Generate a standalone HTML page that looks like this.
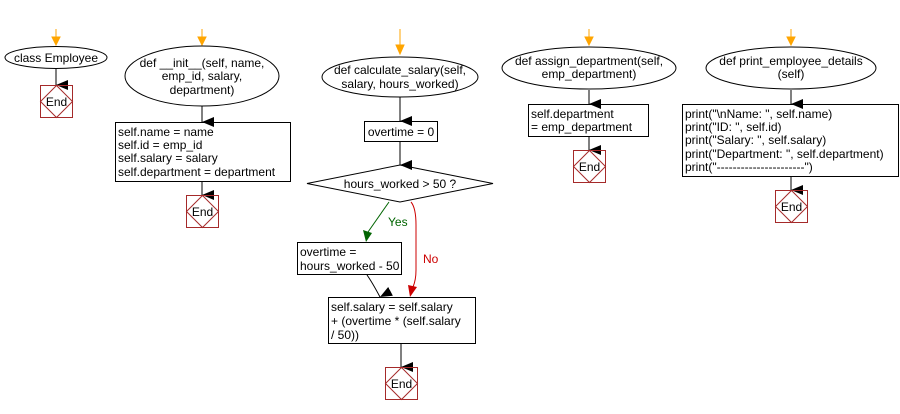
<!DOCTYPE html>
<html><head><meta charset="utf-8"><style>
html,body{margin:0;padding:0;background:#fff;}
svg{display:block;}
text{font-family:"Liberation Sans",Arial,sans-serif;font-size:12px;fill:#000;}
</style></head><body>
<svg width="900" height="414" viewBox="0 0 900 414" xmlns="http://www.w3.org/2000/svg">
<defs>
<marker id="ab" markerWidth="10" markerHeight="12" refX="5" refY="12" orient="auto" markerUnits="userSpaceOnUse" viewBox="0 0 10 12"><path d="M0,0 L10,0 L5,12 Z" fill="#000"/></marker>
</defs>
<g fill="none" stroke-width="1">
<!-- orange start arrows -->
<g stroke="#ffa500" fill="#ffa500">
<line x1="56" y1="29" x2="56" y2="38"/><path d="M52,37 L60,37 L56,45 Z"/>
<line x1="202" y1="29" x2="202" y2="38"/><path d="M198,37 L206,37 L202,45 Z"/>
<line x1="400" y1="29" x2="400" y2="46"/><path d="M396,45 L404,45 L400,54 Z"/>
<line x1="589" y1="29" x2="589" y2="38"/><path d="M585,37 L593,37 L589,45 Z"/>
<line x1="791" y1="29" x2="791" y2="38"/><path d="M787,37 L795,37 L791,45 Z"/>
</g>
<g stroke="#000">
<!-- ellipses -->
<ellipse cx="56" cy="57.5" rx="51" ry="11"/>
<ellipse cx="202" cy="76" rx="77" ry="30"/>
<ellipse cx="400" cy="77" rx="78" ry="20"/>
<ellipse cx="589" cy="68" rx="87" ry="21"/>
<ellipse cx="791" cy="68" rx="85" ry="21"/>
<!-- rects -->
<rect x="115.5" y="122.5" width="175" height="59"/>
<rect x="364.5" y="121.5" width="73" height="20"/>
<rect x="297.5" y="242.5" width="104" height="32"/>
<rect x="328.5" y="297.5" width="147" height="46"/>
<rect x="528.5" y="104.5" width="120" height="32"/>
<rect x="682.5" y="104.5" width="216" height="72"/>
<polygon points="400,165 493,183.5 400,202 307,183.5"/>
<!-- connectors -->
<line x1="56" y1="69" x2="56" y2="85" marker-end="url(#ab)"/>
<line x1="202" y1="106" x2="202" y2="122" marker-end="url(#ab)"/>
<line x1="202" y1="181" x2="202" y2="195" marker-end="url(#ab)"/>
<line x1="400" y1="97" x2="400" y2="121" marker-end="url(#ab)"/>
<line x1="400" y1="142" x2="400" y2="165" marker-end="url(#ab)"/>
<path d="M367,275 Q372,282 380,297" marker-end="url(#ab)"/>
<line x1="401" y1="344" x2="401" y2="367" marker-end="url(#ab)"/>
<line x1="589" y1="90" x2="589" y2="104" marker-end="url(#ab)"/>
<line x1="589" y1="137" x2="589" y2="150" marker-end="url(#ab)"/>
<line x1="791" y1="90" x2="791" y2="104" marker-end="url(#ab)"/>
<line x1="791" y1="177" x2="791" y2="190" marker-end="url(#ab)"/>
</g>
<path d="M389,202 L368,232" stroke="#006400"/>
<path d="M363,230 L372,233 L366,242 Z" fill="#006400"/>
<path d="M411,202 Q416,208 416,225 L416,270 Q416,280 413,287" stroke="#cc0000"/>
<path d="M408,285 L417,287 L410,297 Z" fill="#cc0000"/>
<!-- End boxes -->
<g stroke="#a52a2a">
<rect x="40.5" y="85.5" width="32" height="32"/><polygon points="56.5,85.5 72.5,101.5 56.5,117.5 40.5,101.5"/>
<rect x="186.5" y="195.5" width="32" height="32"/><polygon points="202.5,195.5 218.5,211.5 202.5,227.5 186.5,211.5"/>
<rect x="385.5" y="367.5" width="32" height="32"/><polygon points="401.5,367.5 417.5,383.5 401.5,399.5 385.5,383.5"/>
<rect x="573.5" y="150.5" width="32" height="32"/><polygon points="589.5,150.5 605.5,166.5 589.5,182.5 573.5,166.5"/>
<rect x="775.5" y="190.5" width="32" height="32"/><polygon points="791.5,190.5 807.5,206.5 791.5,222.5 775.5,206.5"/>
</g>
</g>
<text x="56.5" y="106" text-anchor="middle">End</text>
<text x="202.5" y="216" text-anchor="middle">End</text>
<text x="401.5" y="388" text-anchor="middle">End</text>
<text x="589.5" y="171" text-anchor="middle">End</text>
<text x="791.5" y="211" text-anchor="middle">End</text>

<text x="56" y="62" text-anchor="middle">class Employee</text>
<text x="202" y="67" text-anchor="middle">def __init__(self, name,</text>
<text x="202" y="80" text-anchor="middle">emp_id, salary,</text>
<text x="202" y="94" text-anchor="middle">department)</text>
<text x="400" y="74" text-anchor="middle">def calculate_salary(self,</text>
<text x="400" y="88" text-anchor="middle">salary, hours_worked)</text>
<text x="589" y="65" text-anchor="middle">def assign_department(self,</text>
<text x="589" y="78" text-anchor="middle">emp_department)</text>
<text x="791" y="65" text-anchor="middle">def print_employee_details</text>
<text x="791" y="78" text-anchor="middle">(self)</text>

<text x="118" y="136">self.name = name</text>
<text x="118" y="149">self.id = emp_id</text>
<text x="118" y="162">self.salary = salary</text>
<text x="118" y="176">self.department = department</text>

<text x="401" y="136" text-anchor="middle">overtime = 0</text>
<text x="400" y="188" text-anchor="middle">hours_worked &gt; 50 ?</text>
<text x="388" y="226" style="fill:#006400">Yes</text>
<text x="423" y="263" style="fill:#cc0000">No</text>
<text x="300" y="256">overtime =</text>
<text x="300" y="270">hours_worked - 50</text>
<text x="331" y="311">self.salary = self.salary</text>
<text x="331" y="325">+ (overtime * (self.salary</text>
<text x="331" y="339">/ 50))</text>

<text x="531" y="118">self.department</text>
<text x="531" y="131">= emp_department</text>

<text x="685" y="118">print("\nName: ", self.name)</text>
<text x="685" y="131">print("ID: ", self.id)</text>
<text x="685" y="144">print("Salary: ", self.salary)</text>
<text x="685" y="158">print("Department: ", self.department)</text>
<text x="685" y="171">print("----------------------")</text>
</svg>
</body></html>
